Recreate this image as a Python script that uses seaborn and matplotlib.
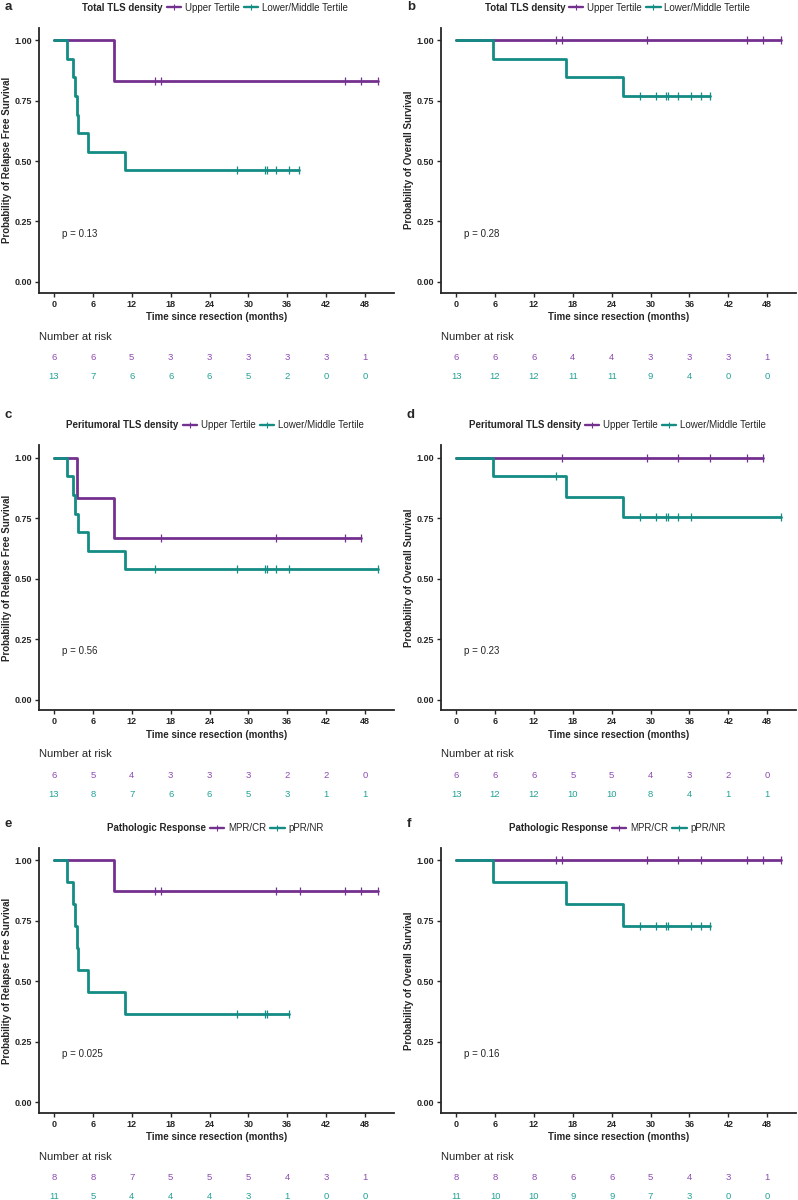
import numpy as np
import pandas as pd
import matplotlib
matplotlib.use("Agg")
import matplotlib.pyplot as plt
from matplotlib.lines import Line2D
import seaborn as sns

# -------------------------------
# Data
# -------------------------------
risk_times = [0, 6, 12, 18, 24, 30, 36, 42, 48]

# a: relapse free survival, total TLS density
a_upper_steps = [0, 9.2]
a_upper_surv = [1.0, 0.833]
a_upper_cens = [15.6, 16.5, 44.9, 47.4, 50.0]
a_lower_steps = [0, 1.95, 3.0, 3.3, 3.55, 3.75, 5.3, 10.9]
a_lower_surv = [1.0, 0.923, 0.846, 0.769, 0.692, 0.615, 0.538, 0.462]
a_lower_cens = [28.3, 32.6, 32.8, 34.3, 36.2, 37.8]
a_upper_risk = [6, 6, 5, 3, 3, 3, 3, 3, 1]
a_lower_risk = [13, 7, 6, 6, 6, 5, 2, 0, 0]

# b: overall survival, total TLS density
b_upper_steps = [0]
b_upper_surv = [1.0]
b_upper_cens = [15.4, 16.3, 29.4, 44.9, 47.4, 50.1]
b_lower_steps = [0, 5.7, 16.9, 25.8]
b_lower_surv = [1.0, 0.923, 0.846, 0.769]
b_lower_cens = [28.3, 30.8, 32.4, 32.7, 34.2, 36.2, 37.8, 39.1]
b_upper_risk = [6, 6, 6, 4, 4, 3, 3, 3, 1]
b_lower_risk = [13, 12, 12, 11, 11, 9, 4, 0, 0]

# c: relapse free survival, peritumoral TLS density
c_upper_steps = [0, 3.55, 9.2]
c_upper_surv = [1.0, 0.833, 0.667]
c_upper_cens = [16.5, 34.3, 44.9, 47.4]
c_lower_steps = [0, 1.95, 3.0, 3.3, 3.75, 5.3, 10.9]
c_lower_surv = [1.0, 0.923, 0.846, 0.769, 0.692, 0.615, 0.538]
c_lower_cens = [15.6, 28.3, 32.6, 32.8, 34.3, 36.2, 50.05]
c_upper_risk = [6, 5, 4, 3, 3, 3, 2, 2, 0]
c_lower_risk = [13, 8, 7, 6, 6, 5, 3, 1, 1]

# d: overall survival, peritumoral TLS density
d_upper_steps = [0]
d_upper_surv = [1.0]
d_upper_cens = [16.4, 29.4, 34.2, 39.2, 44.9, 47.4]
d_lower_steps = [0, 5.7, 16.9, 25.8]
d_lower_surv = [1.0, 0.923, 0.839, 0.755]
d_lower_cens = [15.4, 28.3, 30.8, 32.4, 32.7, 34.2, 36.2, 50.1]
d_upper_risk = [6, 6, 6, 5, 5, 4, 3, 2, 0]
d_lower_risk = [13, 12, 12, 10, 10, 8, 4, 1, 1]

# e: relapse free survival, pathologic response
e_upper_steps = [0, 9.2]
e_upper_surv = [1.0, 0.875]
e_upper_cens = [15.6, 16.5, 34.3, 37.9, 44.9, 47.4, 50.05]
e_lower_steps = [0, 1.95, 3.0, 3.3, 3.55, 3.75, 5.3, 10.9]
e_lower_surv = [1.0, 0.909, 0.818, 0.727, 0.636, 0.545, 0.455, 0.364]
e_lower_cens = [28.3, 32.6, 32.8, 36.2]
e_upper_risk = [8, 8, 7, 5, 5, 5, 4, 3, 1]
e_lower_risk = [11, 5, 4, 4, 4, 3, 1, 0, 0]

# f: overall survival, pathologic response
f_upper_steps = [0]
f_upper_surv = [1.0]
f_upper_cens = [15.4, 16.3, 29.4, 34.2, 37.8, 44.9, 47.4, 50.1]
f_lower_steps = [0, 5.7, 16.9, 25.8]
f_lower_surv = [1.0, 0.909, 0.818, 0.727]
f_lower_cens = [28.3, 30.8, 32.4, 32.7, 36.2, 37.8, 39.1]
f_upper_risk = [8, 8, 8, 6, 6, 5, 4, 3, 1]
f_lower_risk = [11, 10, 10, 9, 9, 7, 3, 0, 0]

p_values = ["0.13", "0.28", "0.56", "0.23", "0.025", "0.16"]
titles = ["Total TLS density", "Total TLS density",
          "Peritumoral TLS density", "Peritumoral TLS density",
          "Pathologic Response", "Pathologic Response"]
tertile_labels = ["Upper Tertile", "Lower/Middle Tertile"]
response_labels = ["MPR/CR", "pPR/NR"]

panels = [
    ("a", a_upper_steps, a_upper_surv, a_upper_cens, a_lower_steps, a_lower_surv, a_lower_cens, a_upper_risk, a_lower_risk),
    ("b", b_upper_steps, b_upper_surv, b_upper_cens, b_lower_steps, b_lower_surv, b_lower_cens, b_upper_risk, b_lower_risk),
    ("c", c_upper_steps, c_upper_surv, c_upper_cens, c_lower_steps, c_lower_surv, c_lower_cens, c_upper_risk, c_lower_risk),
    ("d", d_upper_steps, d_upper_surv, d_upper_cens, d_lower_steps, d_lower_surv, d_lower_cens, d_upper_risk, d_lower_risk),
    ("e", e_upper_steps, e_upper_surv, e_upper_cens, e_lower_steps, e_lower_surv, e_lower_cens, e_upper_risk, e_lower_risk),
    ("f", f_upper_steps, f_upper_surv, f_upper_cens, f_lower_steps, f_lower_surv, f_lower_cens, f_upper_risk, f_lower_risk),
]

# -------------------------------
# Style
# -------------------------------
sns.set_style("ticks")
plt.rcParams['font.family'] = ['Liberation Sans', 'DejaVu Sans']

purple = "#74308F"
teal = "#138C84"
purple_txt = "#8E4BB0"
teal_txt = "#23A196"

fig = plt.figure(figsize=(7.98, 12), dpi=100)

col_left = [0.049, 0.553]
col_width = 0.445
row_bottom = [0.756, 0.408, 0.0725]
row_height = 0.221
letter_y = [7, 415, 824]  # pixels from top


def step_frame(steps, surv, cens):
    end = max(max(cens) if cens else 0, steps[-1])
    return pd.DataFrame({"time": steps + [end], "surv": surv + [surv[-1]]})


def cens_frame(steps, surv, cens):
    idx = np.searchsorted(steps, cens, side="right") - 1
    return pd.DataFrame({"time": cens, "surv": np.array(surv)[idx]})


# -------------------------------
# Draw panels
# -------------------------------
for i, (letter, us, uv, uc, ls, lv, lc, ur, lr) in enumerate(panels):
    row, col = i // 2, i % 2
    ax = fig.add_axes([col_left[col], row_bottom[row], col_width, row_height])

    for steps, surv, cens, color in [(us, uv, uc, purple), (ls, lv, lc, teal)]:
        sns.lineplot(data=step_frame(steps, surv, cens), x="time", y="surv",
                     drawstyle="steps-post", color=color, linewidth=2.0,
                     estimator=None, ax=ax)
        sns.scatterplot(data=cens_frame(steps, surv, cens), x="time", y="surv",
                        marker="|", s=30, linewidth=0.9, color=color, ax=ax,
                        zorder=3)

    ax.set_xlim(-2.3, 52.5)
    ax.set_ylim(-0.045, 1.052)
    ax.set_xticks(risk_times)
    ax.set_yticks([0, 0.25, 0.5, 0.75, 1.0])
    ax.set_yticklabels(["0.00", "0.25", "0.50", "0.75", "1.00"])
    ax.tick_params(labelsize=6.5, length=3, width=1, pad=2)
    for lab in ax.get_xticklabels() + ax.get_yticklabels():
        lab.set_fontweight("bold")
    for s in ["left", "bottom"]:
        ax.spines[s].set_linewidth(1.3)
    sns.despine(ax=ax)

    ax.set_xlabel("Time since resection (months)", fontsize=7,
                  fontweight="bold", labelpad=2.5)
    ylab = "Probability of Relapse Free Survival" if col == 0 else "Probability of Overall Survival"
    ax.set_ylabel(ylab, fontsize=7, fontweight="bold", labelpad=2)

    ax.text(1.2, 0.2, "p = " + p_values[i], fontsize=7, va="center", ha="left")

    # legend with inline title
    labels = tertile_labels if row < 2 else response_labels
    handles = [Line2D([], [], color="none"),
               Line2D([], [], color=purple, lw=1.7, marker="|", ms=4, mew=0.8),
               Line2D([], [], color=teal, lw=1.7, marker="|", ms=4, mew=0.8)]
    leg = ax.legend(handles, [titles[i]] + labels, ncol=3, frameon=False,
                    loc="center", bbox_to_anchor=(0.47, 1.075), fontsize=7,
                    handlelength=1.5, handletextpad=0.4, columnspacing=0.4,
                    borderaxespad=0)
    leg.get_texts()[0].set_fontweight("bold")

    # number at risk table
    trans = ax.get_xaxis_transform()
    ax.text(-2.3, -0.165, "Number at risk", transform=trans, fontsize=8,
            ha="left", va="center", clip_on=False)
    for t, n1, n2 in zip(risk_times, ur, lr):
        ax.text(t, -0.244, str(n1), transform=trans, fontsize=6.8,
                color=purple_txt, ha="center", va="center")
        ax.text(t, -0.316, str(n2), transform=trans, fontsize=6.8,
                color=teal_txt, ha="center", va="center")

    # panel letter
    pos = ax.get_position()
    fig.text(pos.x0 - 0.043, 1 - letter_y[row] / 1200, letter,
             fontsize=9.5, fontweight="bold", ha="left", va="center")

fig.savefig("out.png", dpi=100)
